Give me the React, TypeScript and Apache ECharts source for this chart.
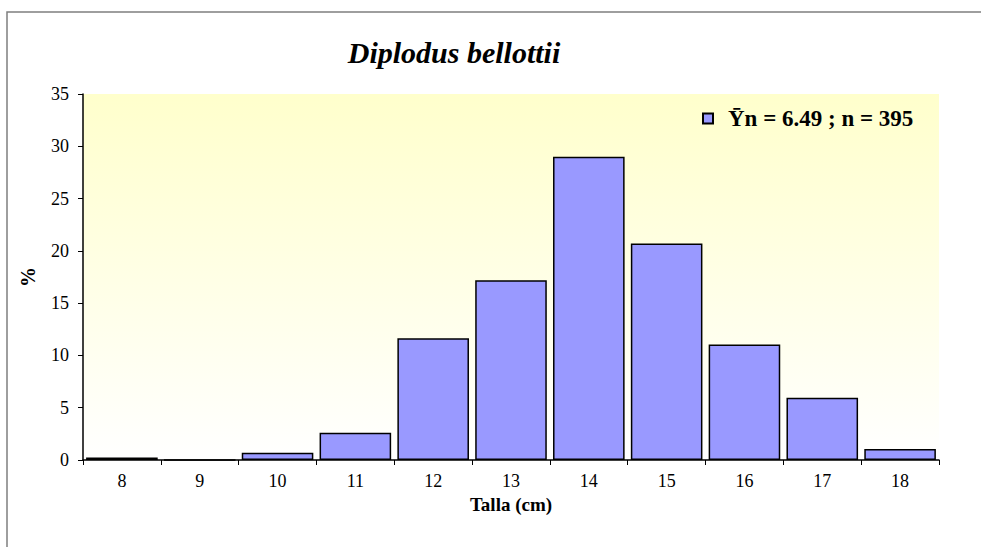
import React, { useEffect, useRef } from "react";
import * as echarts from "echarts";

const categories = ["8", "9", "10", "11", "12", "13", "14", "15", "16", "17", "18"];
const percentValues = [0.25, 0, 0.7, 2.6, 11.65, 17.2, 29.0, 20.7, 11.05, 5.95, 1.05];
const seriesName = "Ȳn = 6.49 ; n = 395";
const titleText = "Diplodus bellottii";
const xAxisName = "Talla (cm)";
const yAxisName = "%";

const FONT = "Liberation Serif";

export default function App() {
  const ref = useRef<HTMLDivElement>(null);
  useEffect(() => {
    if (!ref.current) return;
    const chart = echarts.init(ref.current, undefined, { renderer: "svg" });
    chart.setOption({
      animation: false,
      backgroundColor: "#ffffff",
      textStyle: { fontFamily: FONT, color: "#000" },
      graphic: [
        {
          type: "rect",
          shape: { x: 7, y: 12, width: 1000, height: 600 },
          style: { fill: "none", stroke: "#7f7f7f", lineWidth: 1.5 },
          silent: true,
          z: -1,
        },
        {
          type: "text",
          x: 454,
          y: 52,
          style: {
            text: titleText,
            fontFamily: FONT,
            fontStyle: "italic",
            fontWeight: "bold",
            fontSize: 30,
            fill: "#000",
            align: "center",
            verticalAlign: "middle",
          },
        },
      ],
      legend: {
        show: true,
        left: 697,
        top: 102,
        itemWidth: 10,
        itemHeight: 10,
        icon: "rect",
        textStyle: {
          fontFamily: FONT,
          fontSize: 23,
          fontWeight: "bold",
          color: "#000",
          padding: [0, 0, 0, 10],
        },
        data: [seriesName],
      },
      grid: {
        left: 83,
        top: 94,
        right: 42,
        bottom: 87,
        show: true,
        borderWidth: 0,
        backgroundColor: {
          type: "linear",
          x: 0,
          y: 0,
          x2: 0,
          y2: 1,
          colorStops: [
            { offset: 0, color: "#ffffcc" },
            { offset: 1, color: "#ffffff" },
          ],
        },
      },
      xAxis: {
        type: "category",
        data: categories,
        name: xAxisName,
        nameLocation: "middle",
        nameGap: 34,
        nameTextStyle: { fontFamily: FONT, fontSize: 19, fontWeight: "bold", color: "#000" },
        axisLine: { lineStyle: { color: "#000", width: 1.5 } },
        axisTick: { show: true, length: 5, lineStyle: { color: "#000" } },
        axisLabel: { fontFamily: FONT, fontSize: 18, color: "#000", margin: 12 },
        splitLine: { show: false },
      },
      yAxis: {
        type: "value",
        min: 0,
        max: 35,
        interval: 5,
        name: yAxisName,
        nameLocation: "middle",
        nameGap: 45,
        nameTextStyle: { fontFamily: FONT, fontSize: 20, fontWeight: "bold", color: "#000" },
        axisLine: { show: true, lineStyle: { color: "#000", width: 1.5 } },
        axisTick: { show: true, length: 5, lineStyle: { color: "#000" } },
        axisLabel: { fontFamily: FONT, fontSize: 18, color: "#000", margin: 14 },
        splitLine: { show: false },
      },
      series: [
        {
          name: seriesName,
          type: "bar",
          data: percentValues,
          barCategoryGap: "8%",
          itemStyle: { color: "#9999ff", borderColor: "#000", borderWidth: 1.5 },
        },
      ],
    });
    return () => chart.dispose();
  }, []);
  return <div ref={ref} style={{ width: 981, height: 547, position: "absolute", left: 0, top: 0 }} />;
}
